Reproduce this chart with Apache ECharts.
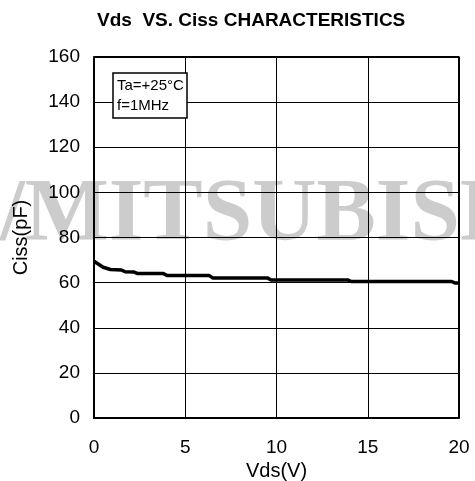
<!DOCTYPE html>
<html>
<head>
<meta charset="utf-8">
<script src="https://cdn.jsdelivr.net/npm/echarts@6/dist/echarts.min.js"></script>
<style>
html, body { margin: 0; padding: 0; background: #fff; }
#chart { width: 475px; height: 481px; }
</style>
</head>
<body>
<div id="chart"></div>
<script>
// values (Vds in V, Ciss in pF)
var vds = [0, 0.5, 0.9, 1.5, 1.7, 2.2, 2.4, 3.8, 4.0, 6.3, 6.5, 9.5, 9.7, 13.9, 14.1, 19.6, 19.8, 20];
var ciss = [69.5, 66.8, 65.8, 65.6, 64.8, 64.7, 64.0, 64.0, 63.2, 63.2, 62.1, 62.1, 61.2, 61.2, 60.5, 60.5, 59.8, 59.8];
var xTicks = [0, 5, 10, 15, 20];
var yTicks = [0, 20, 40, 60, 80, 100, 120, 140, 160];
var conditions = ["Ta=+25°C", "f=1MHz"];

var font = "Liberation Sans, Arial, sans-serif";
var points = vds.map((v, i) => [v, ciss[i]]);

var myChart = echarts.init(document.getElementById("chart"));
var option = {
    animation: false,
    backgroundColor: "#fff",
    title: {
        text: "Vds  VS. Ciss CHARACTERISTICS",
        left: 92,
        top: 6,
        textStyle: {
            fontFamily: font,
            fontWeight: "bold",
            fontSize: 19,
            color: "#000"
        }
    },
    grid: {
        left: 94,
        right: 16,
        top: 57,
        bottom: 63,
        outerBoundsMode: "none"
    },
    graphic: [{
        // watermark
        type: "text",
        left: 0,
        top: 172,
        z: -10,
        silent: true,
        style: {
            text: "/MITSUBISHI",
            font: "bold 89px Liberation Serif, Times New Roman, serif",
            fill: "#cccccc"
        }
    }, {
        type: "rect",
        shape: { x: 113, y: 73, width: 74, height: 45 },
        z: 10,
        style: { fill: "#fff", stroke: "#000", lineWidth: 1.5 }
    }, {
        type: "text",
        x: 117,
        y: 76,
        z: 11,
        style: {
            text: conditions.join("\n"),
            font: "15px " + font,
            fill: "#000",
            lineHeight: 20
        }
    }],
    xAxis: {
        type: "value",
        min: xTicks[0],
        max: xTicks[xTicks.length - 1],
        interval: 5,
        name: "Vds(V)",
        nameLocation: "middle",
        nameGap: 39,
        nameTextStyle: { fontFamily: font, fontSize: 20, color: "#000" },
        axisLine: { show: true, lineStyle: { color: "#000", width: 2 } },
        axisTick: { show: false },
        axisLabel: { margin: 20, fontFamily: font, fontSize: 19, color: "#000" },
        splitLine: { show: true, lineStyle: { color: "#000", width: 1 } }
    },
    yAxis: {
        type: "value",
        min: yTicks[0],
        max: yTicks[yTicks.length - 1],
        interval: 20,
        name: "Ciss(pF)",
        nameLocation: "middle",
        nameGap: 63,
        nameTextStyle: { fontFamily: font, fontSize: 20, color: "#000" },
        axisLine: { show: true, lineStyle: { color: "#000", width: 2 } },
        axisTick: { show: false },
        axisLabel: { margin: 14, fontFamily: font, fontSize: 19, color: "#000" },
        splitLine: { show: true, lineStyle: { color: "#000", width: 1 } }
    },
    series: [{
        type: "line",
        data: points,
        symbol: "none",
        lineStyle: { color: "#000", width: 3.5 },
        z: 5
    }, {
        // frame on top and right sides
        type: "line",
        data: [[0, 160], [20, 160], [20, 0]],
        symbol: "none",
        silent: true,
        lineStyle: { color: "#000", width: 2 },
        z: 4
    }]
};
myChart.setOption(option);
</script>
</body>
</html>
